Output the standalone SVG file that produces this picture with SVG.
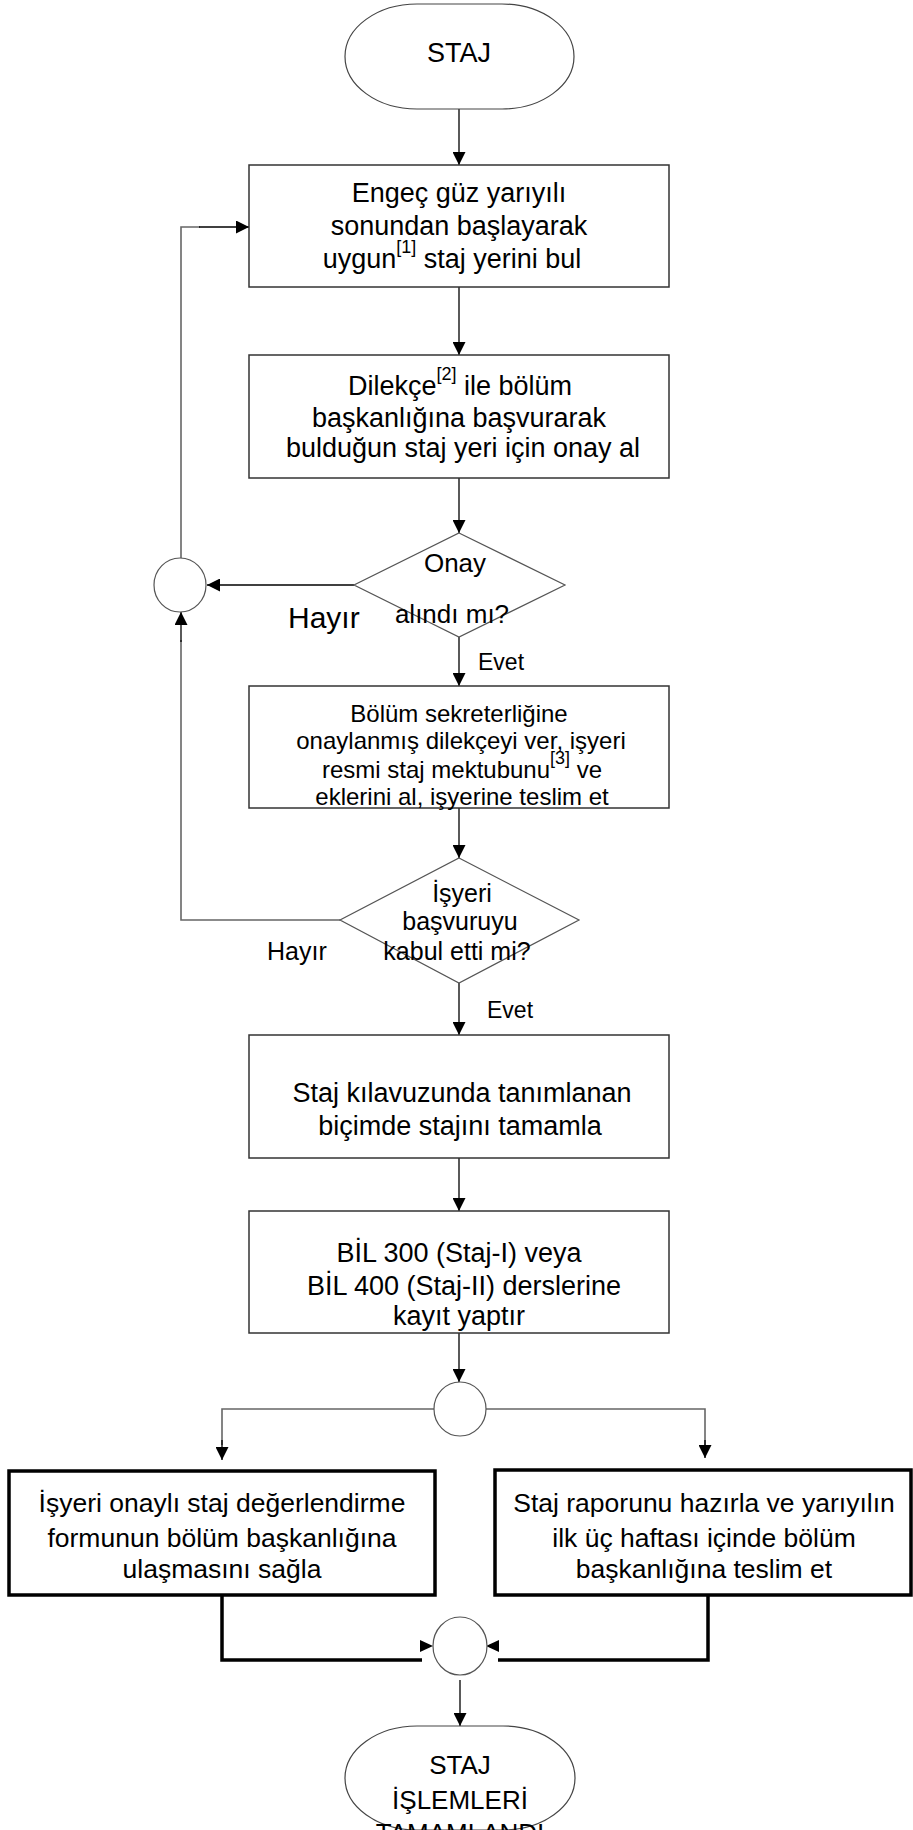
<svg xmlns="http://www.w3.org/2000/svg" width="913" height="1830" viewBox="0 0 913 1830">
<style>
text{font-family:"Liberation Sans",Arial,sans-serif;fill:#000;text-anchor:middle}
.t26{font-size:27px}
.tb{font-size:26.5px}
.t24{font-size:24px}
.sup{font-size:18px}
.box{fill:#fff;stroke:#333;stroke-width:1.5}
.bbox{fill:#fff;stroke:#000;stroke-width:3.5}
.dia{fill:#fff;stroke:#555;stroke-width:1.2}
.circ{fill:#fff;stroke:#555;stroke-width:1.2}
.term{fill:#fff;stroke:#444;stroke-width:1.2}
.con{fill:none;stroke:#000;stroke-width:1.3}
.gcon{fill:none;stroke:#666;stroke-width:1.6}
.thick{fill:none;stroke:#000;stroke-width:3.5}
.lbl{text-anchor:start}
</style>
<defs>
<marker id="arr" markerUnits="userSpaceOnUse" markerWidth="13" markerHeight="13" refX="13" refY="6.5" orient="auto">
<path d="M0,0 L13,6.5 L0,13 z" fill="#000"/>
</marker>
</defs>
<rect width="913" height="1830" fill="#fff"/>

<g id="connectors">
<path class="con" d="M459,109 V165" marker-end="url(#arr)"/>
<path class="con" d="M459,287 V355" marker-end="url(#arr)"/>
<path class="con" d="M459,478 V533" marker-end="url(#arr)"/>
<path class="con" d="M354,585 H207" marker-end="url(#arr)"/>
<path class="gcon" d="M181,558 V227 H200"/>
<path class="con" d="M199,227 H249" marker-end="url(#arr)"/>
<path class="con" d="M459,637 V686" marker-end="url(#arr)"/>
<path class="con" d="M459,808 V858" marker-end="url(#arr)"/>
<path class="gcon" d="M340,920 H181 V640"/>
<path class="con" d="M181,642 V612" marker-end="url(#arr)"/>
<path class="con" d="M459,983 V1035" marker-end="url(#arr)"/>
<path class="con" d="M459,1158 V1211" marker-end="url(#arr)"/>
<path class="con" d="M459,1333 V1382" marker-end="url(#arr)"/>
<path class="gcon" d="M434,1409 H222 V1445"/>
<path class="con" d="M222,1440 V1460" marker-end="url(#arr)"/>
<path class="gcon" d="M486,1409 H705 V1445"/>
<path class="con" d="M705,1440 V1458" marker-end="url(#arr)"/>
<path class="thick" d="M222,1595 V1660 H422"/>
<path class="thick" d="M708,1595 V1660 H498"/>
<path d="M420,1640 L433,1646 L420,1652 z" fill="#000"/>
<path d="M499,1640 L486,1646 L499,1652 z" fill="#000"/>
<path class="con" d="M460,1680 V1726" marker-end="url(#arr)"/>
<text class="lbl" x="288" y="628" style="font-size:30px">Hayır</text>
<text class="lbl" x="478" y="670" style="font-size:23px">Evet</text>
<text class="lbl" x="267" y="960" style="font-size:25px">Hayır</text>
<text class="lbl" x="487" y="1018" style="font-size:23px">Evet</text>
</g>

<g id="start">
<rect class="term" x="345" y="4" width="229" height="105" rx="72" ry="52.5"/>
<text class="t26" x="459" y="62">STAJ</text>
</g>

<g id="box1">
<rect class="box" x="249" y="165" width="420" height="122"/>
<text class="t26" x="459" y="202">Engeç güz yarıyılı</text>
<text class="t26" x="459" y="235">sonundan başlayarak</text>
<text class="t26" x="452" y="268">uygun<tspan class="sup" dy="-15">[1]</tspan><tspan dy="15"> staj yerini bul</tspan></text>
</g>

<g id="box2">
<rect class="box" x="249" y="355" width="420" height="123"/>
<text class="t26" x="460" y="395">Dilekçe<tspan class="sup" dy="-15">[2]</tspan><tspan dy="15"> ile bölüm</tspan></text>
<text class="t26" x="459" y="427">başkanlığına başvurarak</text>
<text class="t26" x="463" y="457">bulduğun staj yeri için onay al</text>
</g>

<g id="decision1">
<polygon class="dia" points="459,533 565,585 459,637 354,585"/>
<text class="t26" x="455" y="572" style="font-size:26px">Onay</text>
<text class="t26" x="452" y="623" style="font-size:26px">alındı mı?</text>
</g>

<g id="junction1">
<ellipse class="circ" cx="180" cy="585" rx="26" ry="27"/>
</g>

<g id="box3">
<rect class="box" x="249" y="686" width="420" height="122"/>
<text class="t24" x="459" y="722">Bölüm sekreterliğine</text>
<text class="t24" x="461" y="749">onaylanmış dilekçeyi ver, işyeri</text>
<text class="t24" x="462" y="778">resmi staj mektubunu<tspan class="sup" dy="-14">[3]</tspan><tspan dy="14"> ve</tspan></text>
<text class="t24" x="462" y="805">eklerini al, işyerine teslim et</text>
</g>

<g id="decision2">
<polygon class="dia" points="459,858 579,920 459,983 340,920"/>
<text class="t24" x="462" y="902" style="font-size:25px">İşyeri</text>
<text class="t24" x="460" y="930" style="font-size:25px">başvuruyu</text>
<text class="t24" x="457" y="960" style="font-size:25px">kabul etti mi?</text>
</g>

<g id="box4">
<rect class="box" x="249" y="1035" width="420" height="123"/>
<text class="t26" x="462" y="1102">Staj kılavuzunda tanımlanan</text>
<text class="t26" x="460" y="1135">biçimde stajını tamamla</text>
</g>

<g id="box5">
<rect class="box" x="249" y="1211" width="420" height="122"/>
<text class="t26" x="459" y="1262">BİL 300 (Staj-I) veya</text>
<text class="t26" x="464" y="1295">BİL 400 (Staj-II) derslerine</text>
<text class="t26" x="459" y="1325">kayıt yaptır</text>
</g>

<g id="junction2">
<ellipse class="circ" cx="460" cy="1409" rx="26" ry="27"/>
</g>

<g id="box6">
<rect class="bbox" x="9" y="1471" width="426" height="124"/>
<text class="tb" x="222" y="1512">İşyeri onaylı staj değerlendirme</text>
<text class="tb" x="222" y="1547">formunun bölüm başkanlığına</text>
<text class="tb" x="222" y="1578">ulaşmasını sağla</text>
</g>

<g id="box7">
<rect class="bbox" x="495" y="1470" width="416" height="125"/>
<text class="tb" x="704" y="1512">Staj raporunu hazırla ve yarıyılın</text>
<text class="tb" x="704" y="1547">ilk üç haftası içinde bölüm</text>
<text class="tb" x="704" y="1578">başkanlığına teslim et</text>
</g>

<g id="junction3">
<ellipse class="circ" cx="460" cy="1646" rx="27" ry="29"/>
</g>

<g id="end">
<rect class="term" x="345" y="1726" width="230" height="104" rx="72" ry="52"/>
<text class="t26" x="460" y="1774" style="font-size:26px">STAJ</text>
<text class="t26" x="460" y="1809" style="font-size:26px">İŞLEMLERİ</text>
<text class="t26" x="460" y="1842" style="font-size:26px">TAMAMLANDI</text>
</g>
</svg>
